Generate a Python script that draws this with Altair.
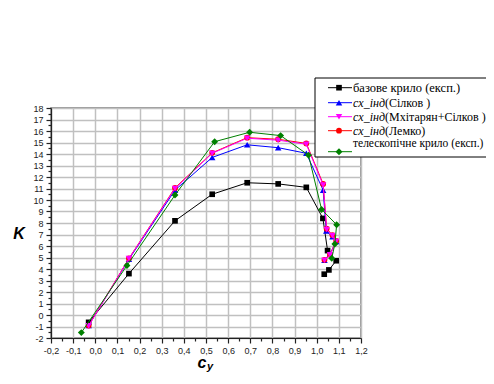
import altair as alt
import pandas as pd

# ---- data ----
base_x = [-0.03, 0.152, 0.36, 0.528, 0.686, 0.826, 0.953, 1.028, 1.049, 1.088, 1.055, 1.034]
base_k = [-0.64, 3.6, 8.19, 10.5, 11.5, 11.4, 11.1, 8.4, 5.6, 4.72, 3.92, 3.55]

silkov_x = [-0.03, 0.152, 0.36, 0.528, 0.686, 0.826, 0.953, 1.029, 1.043, 1.071, 1.088, 1.06, 1.035]
silkov_k = [-0.9, 4.85, 10.86, 13.7, 14.8, 14.55, 14.06, 10.86, 7.3, 6.8, 6.4, 5.3, 4.76]

mkh_x = [-0.03, 0.152, 0.36, 0.528, 0.686, 0.826, 0.953, 1.029, 1.045, 1.071, 1.088, 1.06, 1.035]
mkh_k = [-0.95, 4.9, 11.0, 14.06, 15.37, 15.2, 14.85, 11.3, 7.44, 6.9, 6.4, 5.23, 4.76]

lemko_x = [-0.03, 0.152, 0.36, 0.528, 0.686, 0.826, 0.953, 1.029, 1.045, 1.071, 1.088, 1.06, 1.035]
lemko_k = [-0.92, 4.92, 11.05, 14.1, 15.42, 15.28, 14.92, 11.4, 7.5, 6.95, 6.45, 5.25, 4.8]

tele_x = [-0.063, 0.143, 0.36, 0.539, 0.697, 0.837, 0.963, 1.022, 1.09, 1.082, 1.068]
tele_k = [-1.53, 4.3, 10.43, 15.07, 15.89, 15.6, 13.9, 9.18, 7.85, 6.18, 4.93]

series = [
    # (key, xs, ks, color, shape, size)
    ("base", base_x, base_k, "#000000", "square", 32),
    ("silkov", silkov_x, silkov_k, "#0000ff", "triangle-up", 42),
    ("lemko", lemko_x, lemko_k, "#ff0000", "circle", 34),
    ("mkh", mkh_x, mkh_k, "#ff00ff", "triangle-down", 42),
    ("tele", tele_x, tele_k, "#008000", "diamond", 48),
]

x_ticks = [round(-0.2 + 0.05 * i, 2) for i in range(29)]
y_ticks = [round(-2 + 0.5 * i, 1) for i in range(41)]

x_major = "abs(datum.value*10 - round(datum.value*10)) < 0.001"
y_major = "abs(datum.value - round(datum.value)) < 0.001"

axis_common = dict(
    title=None,
    tickCount=200,
    domainColor="#222222",
    domainWidth=1.2,
    tickColor="#222222",
    tickWidth=1.2,
    labelFont="Liberation Sans",
    labelFontSize=9,
    labelColor="#222222",
    labelOverlap=False,
    labelFlush=False,
    gridColor="#c0c0c0",
    gridWidth=1.5,
)

x_axis = alt.Axis(
    values=x_ticks,
    labelExpr=x_major + " ? replace(replace(format(datum.value, '.1f'), '.', ','), '\u2212', '-') : ''",
    gridOpacity={"condition": {"test": x_major, "value": 1}, "value": 0},
    tickSize={"condition": {"test": x_major, "value": 5}, "value": 3},
    labelPadding=3,
    **axis_common,
)
y_axis = alt.Axis(
    values=y_ticks,
    labelExpr=y_major + " ? replace(format(datum.value, 'd'), '\u2212', '-') : ''",
    gridOpacity={"condition": {"test": y_major, "value": 1}, "value": 0},
    tickSize={"condition": {"test": y_major, "value": 5}, "value": 3},
    labelPadding=3,
    **axis_common,
)

xs = alt.Scale(domain=[-0.2, 1.2], nice=False, zero=False)
ys = alt.Scale(domain=[-2, 18], nice=False, zero=False)

layers = []
first = True
for key, sx, sk, color, shape, size in series:
    df = pd.DataFrame({"i": list(range(len(sx))), "cy": sx, "K": sk})
    base = alt.Chart(df)
    if first:
        xenc = alt.X("cy:Q", scale=xs, axis=x_axis)
        yenc = alt.Y("K:Q", scale=ys, axis=y_axis)
        first = False
    else:
        xenc = alt.X("cy:Q", scale=xs)
        yenc = alt.Y("K:Q", scale=ys)
    line = base.mark_line(color=color, strokeWidth=1).encode(x=xenc, y=yenc, order="i:Q")
    pts = base.mark_point(color=color, fill=color, filled=True, shape=shape, size=size, opacity=1).encode(
        x="cy:Q", y="K:Q"
    )
    layers += [line, pts]

one = pd.DataFrame({"a": [0]})

# legend box
legend_box = alt.Chart(one).mark_rect(fill="white", stroke="#000000", strokeWidth=1).encode(
    x=alt.value(264), x2=alt.value(470), y=alt.value(-30), y2=alt.value(49)
)
layers.append(legend_box)

leg_rows = [
    # (color, shape, size, symbol_y, text_y, italic, normal, font size)
    ("#000000", "square", 32, -20.3, -20.3, "", "базове крило (експ.)", 12.5),
    ("#0000ff", "triangle-up", 42, -5.3, -5.3, "cx_інд", "(Сілков )", 12),
    ("#ff00ff", "triangle-down", 42, 8.7, 8.7, "cx_інд", "(Мхітарян+Сілков )", 12),
    ("#ff0000", "circle", 34, 22.7, 22.7, "cx_інд", "(Лемко)", 12),
    ("#008000", "diamond", 48, 43.7, 35.5, "", "телескопічне крило (експ.)", 11.5),
]
for color, shape, size, sy, ty, ital, norm, fs in leg_rows:
    layers.append(
        alt.Chart(one).mark_rule(color=color, strokeWidth=1).encode(
            x=alt.value(277), x2=alt.value(301), y=alt.value(sy)
        )
    )
    layers.append(
        alt.Chart(one).mark_point(color=color, fill=color, filled=True, shape=shape, size=size, opacity=1).encode(
            x=alt.value(288), y=alt.value(sy)
        )
    )
    if ital:
        layers.append(
            alt.Chart(one).mark_text(
                font="Liberation Serif", fontSize=fs, fontStyle="italic", align="left", baseline="middle", color="#000"
            ).encode(x=alt.value(302), y=alt.value(ty), text=alt.value(ital))
        )
        layers.append(
            alt.Chart(one).mark_text(
                font="Liberation Serif", fontSize=fs, align="left", baseline="middle", color="#000"
            ).encode(x=alt.value(334), y=alt.value(ty), text=alt.value(norm))
        )
    else:
        layers.append(
            alt.Chart(one).mark_text(
                font="Liberation Serif", fontSize=fs, align="left", baseline="middle", color="#000"
            ).encode(x=alt.value(302), y=alt.value(ty), text=alt.value(norm))
        )

# axis titles
layers.append(
    alt.Chart(one).mark_text(
        font="Liberation Sans", fontSize=16, fontStyle="italic", fontWeight="bold", align="center", baseline="middle", color="#000"
    ).encode(x=alt.value(-32), y=alt.value(126), text=alt.value("K"))
)
layers.append(
    alt.Chart(one).mark_text(
        font="Liberation Sans", fontSize=16, fontStyle="italic", fontWeight="bold", align="center", baseline="alphabetic", color="#000"
    ).encode(x=alt.value(151), y=alt.value(260), text=alt.value("c"))
)
layers.append(
    alt.Chart(one).mark_text(
        font="Liberation Sans", fontSize=11, fontStyle="italic", fontWeight="bold", align="center", baseline="alphabetic", color="#000"
    ).encode(x=alt.value(159), y=alt.value(262), text=alt.value("y"))
)

chart = (
    alt.layer(*layers)
    .properties(
        width=310,
        height=230,
        autosize=alt.AutoSizeParams(type="none"),
        padding={"left": 43, "top": 100, "right": 125, "bottom": 34},
    )
    .configure_view(stroke="#777777", strokeWidth=1.5)
)

chart.save("out.html", embed_options={"renderer": "svg", "actions": False})
